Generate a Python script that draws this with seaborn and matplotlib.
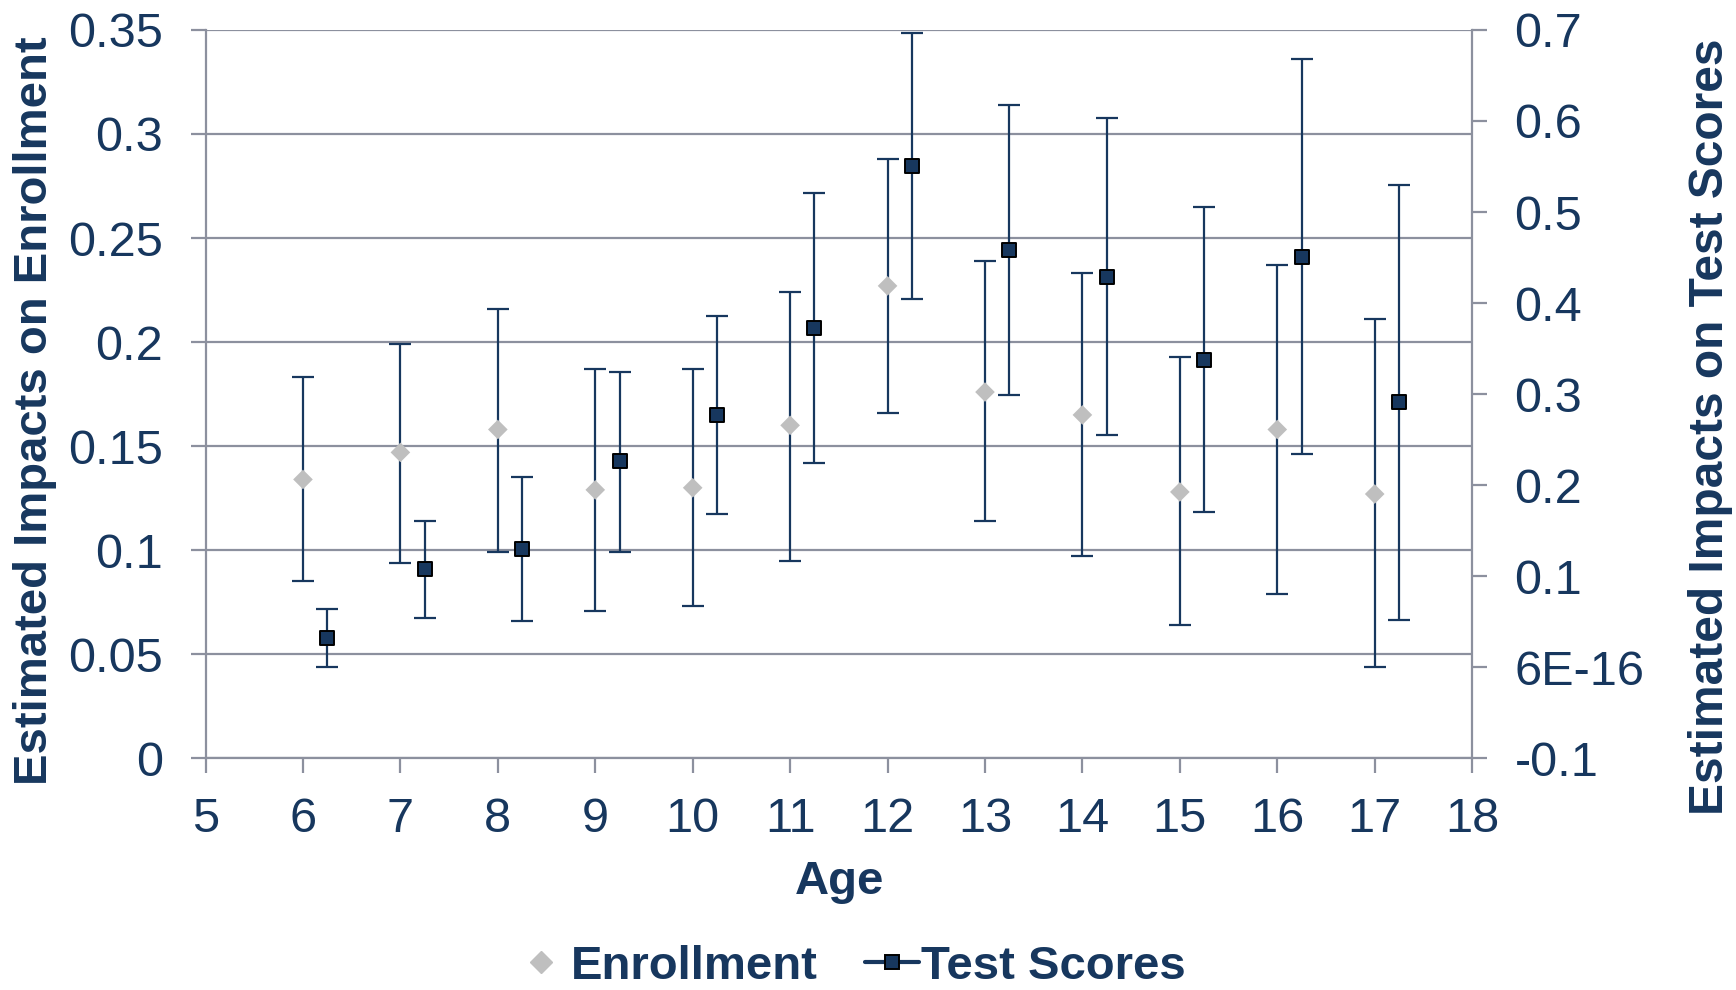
import matplotlib
matplotlib.use("Agg")
import matplotlib.pyplot as plt
from matplotlib.lines import Line2D
import numpy as np
import pandas as pd
import seaborn as sns

# ---- data -------------------------------------------------------------
ages = [6, 7, 8, 9, 10, 11, 12, 13, 14, 15, 16, 17]

enroll_est = [0.134, 0.147, 0.158, 0.129, 0.130, 0.160, 0.227, 0.176, 0.165, 0.128, 0.158, 0.127]
enroll_lo = [0.085, 0.094, 0.099, 0.071, 0.073, 0.095, 0.166, 0.114, 0.097, 0.064, 0.079, 0.044]
enroll_hi = [0.183, 0.199, 0.216, 0.187, 0.187, 0.224, 0.288, 0.239, 0.233, 0.193, 0.237, 0.211]

test_est = [0.032, 0.108, 0.130, 0.226, 0.277, 0.373, 0.551, 0.458, 0.429, 0.337, 0.451, 0.291]
test_lo = [0.000, 0.054, 0.051, 0.127, 0.168, 0.224, 0.404, 0.299, 0.255, 0.170, 0.234, 0.052]
test_hi = [0.064, 0.161, 0.209, 0.324, 0.386, 0.521, 0.697, 0.618, 0.603, 0.505, 0.668, 0.530]

x_ticks = list(range(5, 19))
left_ticks = [0, 0.05, 0.1, 0.15, 0.2, 0.25, 0.3, 0.35]
left_tick_labels = ["0", "0.05", "0.1", "0.15", "0.2", "0.25", "0.3", "0.35"]
right_ticks = [-0.1, 0.0, 0.1, 0.2, 0.3, 0.4, 0.5, 0.6, 0.7]
right_tick_labels = ["-0.1", "6E-16", "0.1", "0.2", "0.3", "0.4", "0.5", "0.6", "0.7"]

# test-score markers sit a quarter year to the right of each age
TEST_SHIFT = 0.25

# ---- style ------------------------------------------------------------
NAVY = "#17375E"
GREY_MARK = "#BFBFBF"
GRID = "#8C909E"

sns.set_theme(style="white")
plt.rcParams["font.family"] = ["Liberation Sans", "DejaVu Sans"]

enroll = pd.DataFrame({"age": ages, "est": enroll_est, "lo": enroll_lo, "hi": enroll_hi})
test = pd.DataFrame({"age": np.array(ages) + TEST_SHIFT, "est": test_est,
                     "lo": test_lo, "hi": test_hi})

fig = plt.figure(figsize=(17.36, 9.9), dpi=100)
ax = fig.add_axes([0.1184, 0.234, 0.7296, 0.7358])
ax2 = ax.twinx()

# ---- enrollment (left axis) -------------------------------------------
ax.errorbar(enroll["age"], enroll["est"],
            yerr=[enroll["est"] - enroll["lo"], enroll["hi"] - enroll["est"]],
            fmt="none", ecolor=NAVY, elinewidth=1.6, capsize=8, capthick=1.6, zorder=2)
sns.scatterplot(data=enroll, x="age", y="est", marker="D", s=100,
                color=GREY_MARK, edgecolor="none", linewidth=0, ax=ax,
                legend=False, zorder=3)

# ---- test scores (right axis) -----------------------------------------
ax2.errorbar(test["age"], test["est"],
             yerr=[test["est"] - test["lo"], test["hi"] - test["est"]],
             fmt="none", ecolor=NAVY, elinewidth=1.6, capsize=8, capthick=1.6, zorder=2)
sns.scatterplot(data=test, x="age", y="est", marker="s", s=100,
                color=NAVY, edgecolor="black", linewidth=1.4, ax=ax2,
                legend=False, zorder=3)

# ---- axes -------------------------------------------------------------
ax.set_xlim(5, 18)
ax.set_ylim(0, 0.35)
ax2.set_ylim(-0.1, 0.7)

ax.set_xticks(x_ticks)
ax.set_xticklabels([str(t) for t in x_ticks])
ax.set_yticks(left_ticks)
ax.set_yticklabels(left_tick_labels)
ax2.set_yticks(right_ticks)
ax2.set_yticklabels(right_tick_labels)

ax.yaxis.grid(True, color=GRID, linewidth=1.6)
ax.xaxis.grid(False)
ax2.grid(False)
ax.set_axisbelow(True)

for a in (ax, ax2):
    for s in a.spines.values():
        s.set_visible(False)
for side in ("left", "bottom"):
    ax.spines[side].set_visible(True)
    ax.spines[side].set_color(GRID)
    ax.spines[side].set_linewidth(1.6)
ax2.spines["right"].set_visible(True)
ax2.spines["right"].set_color(GRID)
ax2.spines["right"].set_linewidth(1.6)

tick_kw = dict(direction="out", length=10.5, width=1.6, color=GRID,
               labelsize=35, labelcolor=NAVY)
ax.tick_params(axis="x", bottom=True, top=False, pad=17, **tick_kw)
ax.tick_params(axis="y", left=True, right=False, pad=20, **tick_kw)
ax2.tick_params(axis="y", right=True, left=False, pad=20, **tick_kw)

# ---- axis titles ------------------------------------------------------
title_kw = dict(fontsize=34, fontweight="bold", color=NAVY)
ax.set_xlabel("Age", **title_kw)
ax.xaxis.set_label_coords(0.5008, -0.170)
ax.xaxis.label.set_va("center")

ax.set_ylabel("Estimated Impacts on Enrollment", **title_kw)
ax.yaxis.set_label_coords(-0.1346, 0.4772)
ax.yaxis.label.set_va("center")

ax2.set_ylabel("Estimated Impacts on Test Scores", rotation=90,
               fontsize=34.5, fontweight="bold", color=NAVY)
ax2.yaxis.set_label_coords(1.1879, 0.4555)
ax2.yaxis.label.set_va("center")

# ---- legend -----------------------------------------------------------
handles = [
    Line2D([], [], marker="D", linestyle="none", markersize=11,
           markerfacecolor=GREY_MARK, markeredgecolor=GREY_MARK),
    Line2D([], [], marker="s", color=NAVY, linewidth=3.0, markersize=10,
           markerfacecolor=NAVY, markeredgecolor="black", markeredgewidth=1.4),
]
fig.legend(handles, ["Enrollment", "Test Scores"], loc="center",
           bbox_to_anchor=(0.4897, 0.0235), bbox_transform=fig.transFigure,
           ncol=2, frameon=False, borderpad=0, handlelength=1.14,
           handletextpad=0.05, columnspacing=1.0,
           prop={"size": 34, "weight": "bold"}, labelcolor=NAVY)

fig.savefig("out.png", dpi=100)
